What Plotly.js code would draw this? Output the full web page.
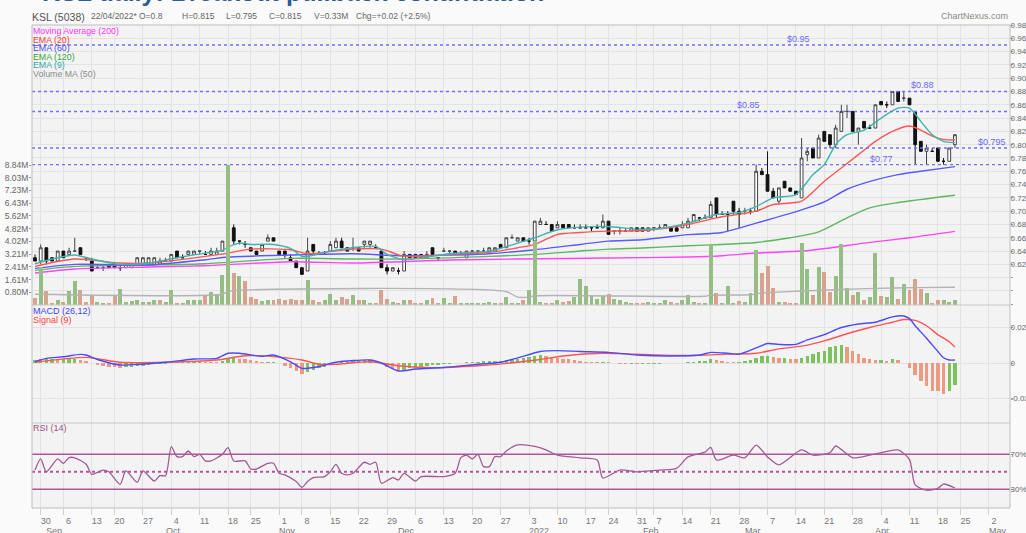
<!DOCTYPE html>
<html><head><meta charset="utf-8">
<script src="https://cdn.plot.ly/plotly-3.0.1.min.js"></script>
<style>html,body{margin:0;padding:0;background:#fafafa;}#chart{width:1026px;height:533px;}</style>
</head><body><div id="chart"></div>
<script>
// ---------------- DATA ----------------
const tradingDays = {
  '2021-08': [27,30],
  '2021-09': [1,2,3,6,7,8,9,10,13,14,15,17,20,21,22,23,24,27,28,29,30],
  '2021-10': [1,4,5,6,7,8,11,12,13,14,15,18,20,21,22,25,26,27,28,29],
  '2021-11': [1,2,3,5,8,9,10,11,12,15,16,17,18,19,22,23,24,25,26,29,30],
  '2021-12': [1,2,3,6,7,8,9,10,13,14,15,16,17,20,21,22,23,24,27,28,29,30,31],
  '2022-01': [3,4,5,6,7,10,11,12,13,14,17,19,20,21,24,25,26,27,28,31],
  '2022-02': [3,4,7,8,9,10,11,14,15,16,17,18,21,22,23,24,25,28],
  '2022-03': [1,2,3,4,7,8,9,10,11,14,15,16,17,18,21,22,23,24,25,28,29,30,31],
  '2022-04': [1,4,5,6,7,8,11,12,13,14,15,18,20,21,22,25,26,27,28,29],
  '2022-05': [2,3,4,5,6]
};
const weekTicks = ['2021-08-30','2021-09-06','2021-09-13','2021-09-20','2021-09-27','2021-10-04','2021-10-11','2021-10-18','2021-10-25','2021-11-01','2021-11-08','2021-11-15','2021-11-22','2021-11-29','2021-12-06','2021-12-13','2021-12-20','2021-12-27','2022-01-03','2022-01-10','2022-01-17','2022-01-24','2022-01-31','2022-02-07','2022-02-14','2022-02-21','2022-02-28','2022-03-07','2022-03-14','2022-03-21','2022-03-28','2022-04-04','2022-04-11','2022-04-18','2022-04-25','2022-05-02'];
const weekLabels = ['30','6','13','20','27','4','11','18','25','1','8','15','22','29','6','13','20','27','3','10','17','24','31','7','14','21','28','7','14','21','28','4','11','18','25','2'];
const monthTicks = ['2021-09-01','2021-10-01','2021-11-01','2021-12-01','2022-01-03','2022-02-03','2022-03-01','2022-04-01','2022-05-02'];
const monthLabels = ['Sep','Oct','Nov','Dec','2022','Feb','Mar','Apr','May'];

const open  = [.630,.625,.645,.630,.625,.640,.635,.640,.645,.630,.625,.615,.615,.620,.620,.615,.615,.615,.620,.620,.620,.620,.620,.625,.625,.640,.630,.635,.635,.640,.635,.635,.635,.640,.660,.675,.655,.650,.645,.640,.640,.655,.660,.640,.640,.630,.625,.615,.610,.650,.635,.635,.640,.645,.655,.645,.645,.645,.650,.650,.645,.640,.615,.610,.610,.610,.635,.635,.635,.630,.645,.630,.640,.640,.640,.635,.630,.640,.640,.640,.640,.640,.650,.645,.660,.655,.660,.655,.655,.680,.680,.680,.675,.680,.680,.675,.675,.675,.675,.675,.675,.685,.670,.670,.670,.670,.675,.675,.670,.675,.675,.675,.675,.675,.675,.675,.685,.690,.690,.690,.720,.695,.695,.715,.700,.700,.700,.700,.760,.755,.730,.715,.745,.735,.730,.720,.785,.795,.780,.820,.815,.800,.820,.850,.850,.820,.835,.825,.825,.865,.860,.860,.880,.870,.870,.850,.805,.790,.790,.795,.775,.775,.800];
const high  = [.635,.650,.645,.630,.640,.640,.645,.660,.645,.630,.630,.620,.620,.620,.620,.620,.620,.620,.630,.630,.630,.630,.630,.630,.635,.640,.635,.640,.640,.640,.640,.645,.645,.655,.690,.680,.655,.655,.645,.640,.650,.665,.660,.640,.640,.635,.625,.615,.660,.650,.640,.640,.655,.660,.660,.645,.660,.645,.655,.655,.650,.640,.620,.615,.615,.640,.635,.635,.635,.640,.645,.630,.645,.640,.640,.640,.640,.640,.640,.645,.645,.645,.650,.660,.665,.660,.660,.660,.685,.690,.685,.680,.685,.680,.680,.680,.680,.680,.675,.680,.695,.685,.670,.675,.675,.675,.675,.675,.675,.675,.680,.680,.675,.675,.685,.690,.695,.690,.695,.715,.720,.700,.700,.715,.705,.705,.705,.770,.765,.790,.735,.735,.745,.735,.730,.810,.795,.795,.815,.820,.815,.830,.860,.860,.850,.825,.835,.830,.860,.865,.865,.880,.880,.880,.870,.850,.805,.800,.795,.795,.780,.795,.815];
const low   = [.625,.620,.620,.625,.625,.630,.635,.640,.635,.625,.610,.615,.610,.615,.615,.610,.615,.615,.620,.620,.620,.620,.620,.625,.625,.630,.630,.635,.635,.635,.635,.635,.635,.640,.660,.650,.650,.645,.640,.635,.640,.655,.655,.635,.630,.625,.615,.605,.610,.635,.635,.635,.640,.645,.645,.640,.640,.640,.645,.645,.645,.615,.605,.610,.605,.610,.630,.630,.630,.630,.635,.625,.640,.635,.635,.635,.630,.635,.635,.640,.640,.640,.645,.645,.660,.655,.655,.650,.655,.680,.680,.670,.675,.675,.675,.675,.675,.675,.670,.675,.675,.665,.665,.665,.670,.670,.670,.670,.670,.670,.675,.675,.670,.670,.675,.675,.685,.685,.690,.690,.690,.695,.670,.695,.675,.695,.695,.700,.755,.730,.720,.710,.735,.730,.725,.720,.775,.780,.780,.805,.795,.795,.820,.840,.820,.800,.825,.825,.825,.860,.855,.860,.865,.865,.860,.770,.790,.770,.790,.775,.770,.775,.795];
const close = [.625,.645,.625,.625,.640,.630,.640,.640,.635,.630,.610,.615,.615,.615,.615,.615,.620,.620,.630,.630,.630,.630,.625,.625,.635,.630,.630,.640,.640,.640,.635,.640,.640,.655,.675,.655,.655,.650,.640,.635,.650,.660,.655,.635,.635,.625,.615,.605,.640,.640,.635,.635,.650,.655,.645,.640,.645,.640,.655,.655,.645,.615,.610,.615,.610,.635,.630,.630,.630,.635,.635,.630,.640,.640,.635,.635,.640,.640,.640,.640,.645,.645,.645,.660,.660,.660,.655,.655,.685,.685,.680,.670,.680,.675,.675,.675,.675,.675,.675,.675,.685,.665,.670,.670,.670,.675,.670,.670,.675,.675,.675,.680,.670,.670,.680,.685,.695,.690,.690,.710,.695,.695,.695,.700,.695,.700,.700,.760,.755,.730,.720,.735,.735,.730,.725,.780,.790,.780,.810,.805,.800,.825,.850,.850,.820,.825,.825,.825,.860,.860,.860,.880,.865,.870,.860,.800,.790,.795,.790,.775,.775,.795,.815];
const volume = [.42,2.42,.90,.10,.30,.17,.88,1.50,.95,.20,.63,.20,.15,.10,.63,1.00,.20,.25,.30,.20,.20,.30,.30,.20,.95,.15,.10,.30,.30,.30,.60,.80,.70,1.90,8.84,2.00,1.80,1.50,.50,.40,.25,.30,.30,.40,.30,.40,.30,.30,1.60,.30,.20,.30,.70,.30,.50,.40,.63,.30,.30,.15,.10,.95,.38,.20,.15,.30,.30,.15,.15,.30,.46,.15,.46,.15,.55,.15,.15,.15,.10,.15,.20,.15,.15,.50,.15,.15,.30,.95,4.06,.20,.15,.15,.30,.20,.25,.50,1.64,1.20,.60,.40,.55,.70,.40,.30,.20,.10,.10,.10,.20,.10,.15,.30,.20,.10,.30,.63,.20,.15,.15,3.85,.78,.15,1.22,.15,.25,.20,.73,3.50,2.00,2.48,1.10,.20,.20,.15,.15,3.94,2.25,.63,2.42,2.10,.85,1.83,3.85,1.10,.63,.85,.30,.50,3.26,.60,.50,1.75,.40,1.30,.96,1.62,1.00,.74,.10,.30,.30,.20,.33];

// indicator lines: [trading-day index, value]
const ma200 = [[0,.607],[7,.613],[20,.616],[30,.618],[45,.624],[56,.622],[73,.6265],[85,.628],[101,.6295],[115,.631],[121,.633],[127,.637],[135,.640],[140,.6447],[146,.652],[154,.660],[162,.6696]];
const ema20 = [[0,.617],[7,.628],[15,.622],[20,.622],[30,.632],[34,.637],[38,.643],[45,.642],[48,.636],[56,.643],[61,.643],[65,.632],[73,.635],[80,.638],[85,.645],[88,.650],[92,.665],[96,.668],[101,.670],[107,.671],[115,.680],[120,.690],[127,.700],[130,.710],[135,.715],[139,.745],[142,.765],[145,.785],[148,.805],[151,.820],[154,.828],[156,.822],[158,.813],[160,.808],[162,.807]];
const ema60 = [[0,.614],[7,.620],[20,.619],[30,.627],[34,.631],[45,.634],[56,.636],[65,.633],[80,.636],[88,.642],[96,.650],[101,.655],[107,.657],[115,.6647],[121,.668],[127,.682],[135,.702],[139,.714],[143,.733],[148,.747],[152,.755],[156,.760],[162,.767]];
const ema120 = [[0,.611],[7,.617],[20,.619],[30,.621],[45,.629],[56,.628],[65,.628],[80,.632],[88,.635],[96,.640],[101,.643],[107,.6447],[115,.648],[121,.650],[127,.653],[133,.660],[138,.669],[143,.690],[147,.705],[152,.713],[162,.724]];
const ema9 = [[0,.621],[3,.628],[7,.634],[10,.628],[15,.620],[20,.622],[25,.630],[30,.637],[33,.641],[34,.646],[36,.652],[38,.650],[42,.650],[45,.644],[47,.632],[48,.632],[52,.640],[56,.645],[60,.647],[62,.635],[65,.627],[68,.630],[73,.636],[80,.640],[85,.652],[88,.660],[92,.672],[96,.676],[101,.677],[106,.673],[110,.674],[115,.682],[120,.695],[124,.698],[127,.707],[130,.720],[134,.725],[137,.755],[139,.770],[141,.800],[143,.815],[146,.822],[149,.840],[152,.855],[154,.855],[156,.835],[158,.815],[160,.805],[162,.803]];
const volMA50 = [[0,.68],[33,.68],[34,.85],[83,.84],[85,.50],[87,.50],[88,.58],[118,.55],[119,.62],[126,.65],[127,.72],[130,.80],[135,.88],[142,.98],[148,1.05],[155,1.10],[162,1.12]];
const macd = [[0,.0007],[2,.0026],[5,.0035],[8,.0049],[9,.0045],[11,.002],[15,-.0011],[18,-.0008],[23,.0004],[28,.0023],[32,.0026],[34,.0055],[36,.0055],[40,.0038],[42,.0045],[45,.0007],[47,-.003],[50,-.002],[53,.0004],[59,.0017],[61,0],[64,-.0045],[67,-.0034],[72,-.0025],[78,-.0007],[82,.0004],[85,.0029],[89,.0065],[92,.007],[96,.0065],[101,.006],[106,.0045],[112,.004],[117,.0045],[119,.006],[122,.0055],[124,.005],[127,.0085],[129,.011],[131,.0105],[134,.0105],[136,.013],[139,.016],[142,.02],[145,.022],[148,.023],[151,.026],[153,.0265],[154,.025],[155,.021],[157,.014],[159,.0065],[160,.003],[161,.0017],[162,.0017]];
const signal = [[0,.0004],[9,.0032],[15,.0004],[23,.0004],[32,.0017],[37,.0041],[42,.0036],[47,.0017],[50,-.0007],[53,-.0007],[59,.0007],[64,-.0015],[70,-.0026],[78,-.0015],[85,.0004],[89,.002],[93,.004],[100,.0055],[106,.005],[115,.0042],[122,.005],[127,.0055],[131,.008],[135,.0095],[139,.0125],[143,.0165],[147,.020],[151,.023],[153,.0245],[155,.024],[157,.021],[159,.016],[161,.012],[162,.009]];
const histogram = [.0015,.002,.002,.0022,.002,.002,.002,.0022,.0018,.0012,0,-.001,-.0015,-.002,-.0025,-.003,-.0025,-.002,-.0018,-.0015,-.001,-.0008,-.0005,-.0003,.0005,.0008,.0008,.001,.001,.001,.0008,.0006,.0005,.001,.0025,.0028,.0025,.002,.0015,.001,.0005,.0008,.0008,0,-.0015,-.003,-.0045,-.006,-.005,-.004,-.003,-.002,-.001,0,.0005,.0008,.001,.0012,.0015,.0015,.0012,-.0005,-.0025,-.0035,-.0045,-.004,-.003,-.0025,-.002,-.0015,-.0012,-.001,-.0005,-.0003,0,.0002,.0004,.0006,.0008,.001,.001,.0012,.0014,.0018,.0022,.0025,.003,.0035,.004,.0045,.004,.0035,.003,.0025,.002,.0015,.001,.0008,.0005,.0003,.0005,.0003,0,-.0003,-.0005,-.0005,-.0006,-.0006,-.0005,-.0004,-.0003,-.0002,-.0002,0,.0002,.0005,.0008,.001,.0012,.002,.0015,.0012,.0008,.0005,.0005,.001,.0015,.003,.004,.004,.0035,.003,.003,.0025,.002,.003,.004,.005,.006,.007,.009,.0095,.010,.009,.007,.005,.003,.002,.0015,.0015,.001,.002,.0015,0,-.003,-.007,-.010,-.013,-.0155,-.016,-.0177,-.0155,-.0124];
const rsi = [[0,52],[1,64.7],[2,50],[4,64.7],[5,59.7],[6,66.2],[7,66],[9,58.6],[10,47],[11,49.4],[12,52],[13,50],[15,35.7],[16,51],[18,38],[19,51],[21,39.5],[22,45.6],[23,45.6],[24,78.8],[25,67.3],[26,67.3],[27,73.8],[28,67.3],[29,70],[30,62.4],[31,62.4],[33,70],[34,77.6],[35,62.4],[37,62.4],[38,53.2],[39,53.2],[41,59.7],[42,59.7],[43,48.3],[44,46.4],[46,38.8],[47,32.3],[48,38.8],[49,43.3],[51,44.5],[52,50],[53,58.6],[54,48.3],[55,46.4],[56,48.3],[58,60.9],[59,58.6],[60,60.9],[61,36.9],[63,43.3],[64,40.7],[65,48.3],[67,39.5],[68,44.5],[72,44.5],[74,48.3],[75,66.2],[76,69],[77,64.7],[78,70],[79,55.9],[80,55.9],[81,67.3],[82,67.3],[83,73.8],[85,80.7],[88,79],[90,75],[92,69],[96,66],[99,63.5],[100,43],[103,52],[106,50],[110,52],[113,54],[115,67],[118,72.6],[119,78],[120,63.5],[123,69],[125,66],[127,80.6],[129,67],[131,58],[135,75],[137,69],[140,72],[141,79.5],[144,66],[147,69],[149,72],[152,75],[154,64],[155,35],[157,29],[159,31],[160,36],[162,31.5]];

const priceLevels = [0.95, 0.88, 0.85, 0.795, 0.77];
const priceLevelLabels = ['$0.95','$0.88','$0.85','$0.795','$0.77'];
const priceTicks = [0.98,0.96,0.94,0.92,0.90,0.88,0.86,0.84,0.82,0.80,0.78,0.76,0.74,0.72,0.70,0.68,0.66,0.64,0.62];
const volTickLabels = ['0.80M','1.61M','2.41M','3.21M','4.02M','4.82M','5.62M','6.43M','7.23M','8.03M','8.84M'];
const volTickValues = [0.8036,1.6073,2.4109,3.2145,4.0182,4.8218,5.6255,6.4291,7.2327,8.0364,8.84];

// ---------------- GEOMETRY ----------------
const W=1026,H=533,L=32,R=16,T=25,B=25, PW=W-L-R, PH=H-T-B;
const px = x => (x-L)/PW, py = y => (H-B-y)/PH;
const dates=[]; for (const m in tradingDays) for (const d of tradingDays[m]) dates.push(m+'-'+String(d).padStart(2,'0'));
const idx = d => dates.indexOf(d);
const xs = close.map((_,i)=>i);
const GREEN='#95bd84', SALMON='#d9a28e';
const volColors = close.map((c,i)=>{const p=i?close[i-1]:open[i];return (c>p||(c===p&&c>=open[i]))?GREEN:SALMON;});
const histColors = histogram.map((h,i)=> (i===0||h>=histogram[i-1])?'#7cc25e':'#ec9a80');
const FONT='Arial, "Liberation Sans", sans-serif';

function line(pts,color,yaxis,w){return {type:'scatter',mode:'lines',x:pts.map(p=>p[0]),y:pts.map(p=>p[1]),yaxis:yaxis,line:{color:color,width:w||1.4,shape:'spline',smoothing:0.7},hoverinfo:'skip',showlegend:false};}

const traces = [
  {type:'bar',x:xs,y:volume,yaxis:'y2',marker:{color:volColors,line:{width:0}},width:0.7,hoverinfo:'skip',showlegend:false},
  line(volMA50,'#b3b3b3','y2',1.4),
  line(ma200,'#ff44ff','y'),
  line(ema120,'#5cb85c','y'),
  line(ema60,'#5a5aff','y'),
  line(ema20,'#ff5555','y'),
  line(ema9,'#3fb3ad','y'),
  {type:'candlestick',x:xs,open:open,high:high,low:low,close:close,yaxis:'y',whiskerwidth:0,
   increasing:{line:{color:'#444',width:1},fillcolor:'#ffffff'},decreasing:{line:{color:'#111',width:1},fillcolor:'#111'},hoverinfo:'skip',showlegend:false},
  {type:'bar',x:xs,y:histogram,yaxis:'y3',marker:{color:histColors,line:{width:0}},width:0.6,hoverinfo:'skip',showlegend:false},
  line(signal,'#ff5555','y3'),
  line(macd,'#4a4aff','y3'),
  line(rsi,'#a45b94','y4',1.3)
];

const shapes = [];
priceLevels.forEach(v=>shapes.push({type:'line',xref:'paper',x0:0,x1:1,yref:'y',y0:v,y1:v,line:{color:'#7070ff',width:1.4,dash:'dot'},layer:'above'}));
[70,30].forEach(v=>shapes.push({type:'line',xref:'paper',x0:0,x1:1,yref:'y4',y0:v,y1:v,line:{color:'#b0579a',width:1.4}}));
shapes.push({type:'line',xref:'paper',x0:0,x1:1,yref:'y4',y0:50,y1:50,line:{color:'#b0579a',width:2,dash:'dot'}});
[305,423].forEach(y=>shapes.push({type:'line',xref:'paper',yref:'paper',x0:0,x1:1,y0:py(y),y1:py(y),line:{color:'#c8c8c8',width:1}}));
shapes.push({type:'rect',xref:'paper',yref:'paper',x0:0,x1:1,y0:0,y1:1,line:{color:'#bdbdbd',width:1}});

const ann = [];
function A(text,x,y,opt){ann.push(Object.assign({text:text,xref:'paper',yref:'paper',x:px(x),y:py(y),xanchor:'left',yanchor:'middle',showarrow:false,font:{family:FONT,size:8.5,color:'#666'}},opt||{}));}
A('<b>KSL daily: Breakout pullback continuation</b>',40,-8,{font:{family:FONT,size:25,color:'#2d5c96'}});
A('KSL (5038)',30,17,{font:{family:FONT,size:10.5,color:'#555'}});
A('22/04/2022*',89,16.5); A('O=0.8',137,16.5); A('H=0.815',180,16.5); A('L=0.795',224,16.5);
A('C=0.815',267,16.5); A('V=0.33M',312,16.5); A('Chg=+0.02 (+2.5%)',354,16.5);
A('ChartNexus.com',1010,16,{xanchor:'right',font:{family:FONT,size:9,color:'#888'}});
const legend=[['Moving Average (200)','#ff33ff'],['EMA (20)','#ff3b3b'],['EMA (60)','#4d4dff'],['EMA (120)','#33a833'],['EMA (9)','#33aaaa'],['Volume MA (50)','#8a8a8a']];
legend.forEach((l,k)=>A(l[0],31,31+k*8.6,{font:{family:FONT,size:8.8,color:l[1]}}));
A('MACD (26,12)',31,311,{font:{family:FONT,size:9,color:'#4444ff'}});
A('Signal (9)',31,320,{font:{family:FONT,size:9,color:'#ff4444'}});
A('RSI (14)',31,428,{font:{family:FONT,size:9,color:'#a0508a'}});
const lvlX=[785,909,735,976,868];
priceLevels.forEach((v,k)=>ann.push({text:priceLevelLabels[k],xref:'paper',yref:'y',x:px(lvlX[k]),y:v,xanchor:'left',yanchor:'bottom',yshift:-1,showarrow:false,font:{family:FONT,size:9,color:'#6a6aff'}}));
monthTicks.forEach((d,k)=>ann.push({text:monthLabels[k],xref:'x',yref:'paper',x:idx(d),y:py(524),xanchor:'left',yanchor:'top',xshift:-2,showarrow:false,font:{family:FONT,size:9,color:'#777'}}));

const tickR={family:FONT,size:8,color:'#666'};
const tickL={family:FONT,size:8.5,color:'#666'};
const layout = {
  width:W,height:H,margin:{l:L,r:R,t:T,b:B},paper_bgcolor:'#fafafa',plot_bgcolor:'#f3f3f3',
  showlegend:false,bargap:0,barmode:'overlay',
  xaxis:{domain:[0,1],range:[-0.53,171.7],anchor:'y4',tickmode:'array',tickvals:weekTicks.map(idx),ticktext:weekLabels,
    ticks:'outside',ticklen:6,tickcolor:'#cfcfcf',tickfont:{family:FONT,size:9,color:'#777'},ticklabelshift:5,ticklabelstandoff:-2,
    showgrid:true,gridcolor:'#e3e3e3',zeroline:false,showline:false,rangeslider:{visible:false},fixedrange:true},
  yaxis:{domain:[py(305),1],range:[0.5589,0.98],side:'right',anchor:'x',tickmode:'array',
    tickvals:priceTicks.concat([0.60,0.58,0.56]),ticktext:priceTicks.map(v=>v.toFixed(2)).concat(['','','']),
    ticks:'outside',ticklen:2,tickcolor:'#999',tickfont:tickR,ticklabelstandoff:-4,showgrid:true,gridcolor:'#e3e3e3',zeroline:false,fixedrange:true},
  yaxis2:{overlaying:'y',side:'left',anchor:'x',range:[0,17.68],tickmode:'array',tickvals:volTickValues,ticktext:volTickLabels,
    ticks:'outside',ticklen:2,tickcolor:'#999',tickfont:tickL,ticklabelstandoff:-1,showgrid:false,zeroline:false,fixedrange:true},
  yaxis3:{domain:[py(423),py(305)],range:[-0.0338,0.0327],side:'right',anchor:'x',tickmode:'array',tickvals:[0.02,0,-0.02],ticktext:['0.02','0','-0.02'],
    ticks:'outside',ticklen:2,tickcolor:'#999',tickfont:tickR,ticklabelstandoff:-4,showgrid:true,gridcolor:'#e3e3e3',zeroline:false,fixedrange:true},
  yaxis4:{domain:[0,py(423)],range:[8.6,105.8],side:'right',anchor:'x',tickmode:'array',tickvals:[70,30],ticktext:['70%','30%'],
    ticks:'outside',ticklen:2,tickcolor:'#999',tickfont:tickR,ticklabelstandoff:-4,showgrid:false,zeroline:false,fixedrange:true},
  shapes:shapes,annotations:ann
};
Plotly.newPlot('chart',traces,layout,{staticPlot:true,displayModeBar:false});
</script></body></html>
